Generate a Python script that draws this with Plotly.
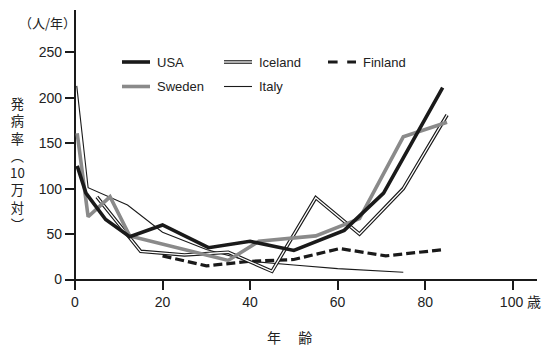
import plotly.graph_objects as go

# ---- data ----
usa_age = [0.5, 2.5, 7, 12.5, 20, 30.5, 40, 50, 61.5, 70.5, 84]
usa_val = [125, 95, 66, 47, 60, 35, 42, 32, 54, 95, 211]

sweden_age = [0.5, 3, 8, 12.5, 30, 35, 42, 55, 65, 75, 85]
sweden_val = [161, 69, 91, 48, 27, 21, 42, 48, 67, 157, 173]

iceland_age = [5, 15, 25, 35, 45, 55, 65, 75, 85]
iceland_val = [91, 31, 27, 30, 9, 90, 50, 100, 181]

italy_age = [0.4, 3, 12, 20, 30, 40, 50, 60, 75]
italy_val = [213, 101, 82, 52, 33, 20, 16, 12, 8]

finland_age = [20, 30, 40, 50, 60.5, 71, 84.5]
finland_val = [26, 15, 20, 22, 34, 26, 33]

x_ticks = [0, 20, 40, 60, 80, 100]
x_ticklabels = ["0", "20", "40", "60", "80", "\u00a0\u00a0\u00a0\u00a0100\u00a0歳"]
y_ticks = [0, 50, 100, 150, 200, 250]

# ---- layout geometry (pixels) ----
W, H = 543, 347
L, R, T, B = 65, 537, 10, 290

def px(x):
    return (x - L) / (R - L)

def py(y):
    return (B - y) / (B - T)

BLACK = "#1a1a1a"
GRAY = "#8a8a8a"
FONT = "Liberation Sans, Arial, Noto Sans CJK JP, sans-serif"
JFONT = "Noto Sans CJK JP, sans-serif"

fig = go.Figure()

fig.add_trace(go.Scatter(x=italy_age, y=italy_val, mode="lines",
                         line=dict(color=BLACK, width=1.1), name="Italy"))
fig.add_trace(go.Scatter(x=finland_age, y=finland_val, mode="lines",
                         line=dict(color=BLACK, width=3.2, dash="9px,4px"), name="Finland"))
fig.add_trace(go.Scatter(x=iceland_age, y=iceland_val, mode="lines",
                         line=dict(color=BLACK, width=3.6), name="Iceland"))
fig.add_trace(go.Scatter(x=iceland_age, y=iceland_val, mode="lines",
                         line=dict(color="white", width=1.3), name="Iceland_inner"))
fig.add_trace(go.Scatter(x=sweden_age, y=sweden_val, mode="lines",
                         line=dict(color=GRAY, width=3.6), name="Sweden"))
fig.add_trace(go.Scatter(x=usa_age, y=usa_val, mode="lines",
                         line=dict(color=BLACK, width=3.6), name="USA"))

sx = (512.7 - 75) / 100.0
x0 = -(75 - L) / sx
x1 = (R - 75) / sx
sy = (279.5 - 52.3) / 250.0
y0 = -(B - 279.5) / sy
y1 = (279.5 - T) / sy

fig.update_layout(
    width=W, height=H,
    margin=dict(l=L, r=W - R, t=T, b=H - B, autoexpand=False),
    paper_bgcolor="white", plot_bgcolor="white",
    showlegend=False,
    xaxis=dict(range=[x0, x1], tickvals=x_ticks, ticktext=x_ticklabels,
               ticks="inside", ticklen=10, tickwidth=2, tickcolor=BLACK,
               showgrid=False, showline=False, zeroline=True,
               zerolinecolor=BLACK, zerolinewidth=2, automargin=False,
               tickfont=dict(family=FONT, size=14, color="#222"),
               ticklabelstandoff=2),
    yaxis=dict(range=[y0, y1], tickvals=y_ticks, ticktext=[str(v) for v in y_ticks],
               ticks="inside", ticklen=10, tickwidth=2, tickcolor=BLACK,
               showgrid=False, showline=False, zeroline=True,
               zerolinecolor=BLACK, zerolinewidth=2, automargin=False,
               tickfont=dict(family=FONT, size=14, color="#222"),
               ticklabelstandoff=2),
)

# ---- manual legend ----
legend_rows = [
    ("USA", 122, 62, dict(color=BLACK, width=3.6)),
    ("Sweden", 122, 86.5, dict(color=GRAY, width=3.6)),
    ("Iceland", 224, 62, None),
    ("Italy", 224, 86.5, dict(color=BLACK, width=1.1)),
    ("Finland", 328, 62, dict(color=BLACK, width=3.2, dash="dash")),
]
for name, lx, ly, ln in legend_rows:
    x_a, x_b = px(lx), px(lx + 28)
    if ln is None:
        fig.add_shape(type="line", xref="paper", yref="paper", x0=x_a, x1=x_b,
                      y0=py(ly), y1=py(ly), line=dict(color=BLACK, width=3.6))
        fig.add_shape(type="line", xref="paper", yref="paper", x0=x_a, x1=x_b,
                      y0=py(ly), y1=py(ly), line=dict(color="white", width=1.3))
    else:
        fig.add_shape(type="line", xref="paper", yref="paper", x0=x_a, x1=x_b,
                      y0=py(ly), y1=py(ly), line=ln)
    fig.add_annotation(x=px(lx + 33), y=py(ly), xref="paper", yref="paper",
                       text=name, showarrow=False, xanchor="left", yanchor="middle",
                       font=dict(family=FONT, size=13, color="#222"))

# ---- texts ----
fig.add_annotation(x=px(47), y=py(23), xref="paper", yref="paper", text="（人/年）",
                   showarrow=False, xanchor="center", yanchor="middle",
                   font=dict(family=JFONT, size=13, color="#222"))

vtitle = "<br>".join(["発", "病", "率", "︵", "10", "万", "対", "︶"])
fig.add_annotation(x=px(17), y=py(164), xref="paper", yref="paper", text=vtitle,
                   showarrow=False, xanchor="center", yanchor="middle", align="center",
                   font=dict(family=JFONT, size=13.3, color="#222"))

fig.add_annotation(x=px(289), y=py(337), xref="paper", yref="paper", text="年　 齢",
                   showarrow=False, xanchor="center", yanchor="middle",
                   font=dict(family=JFONT, size=14, color="#222"))

fig.write_html("out.html", config={"displayModeBar": False},
               post_script="document.body.style.margin='0';document.body.style.padding='0';")
